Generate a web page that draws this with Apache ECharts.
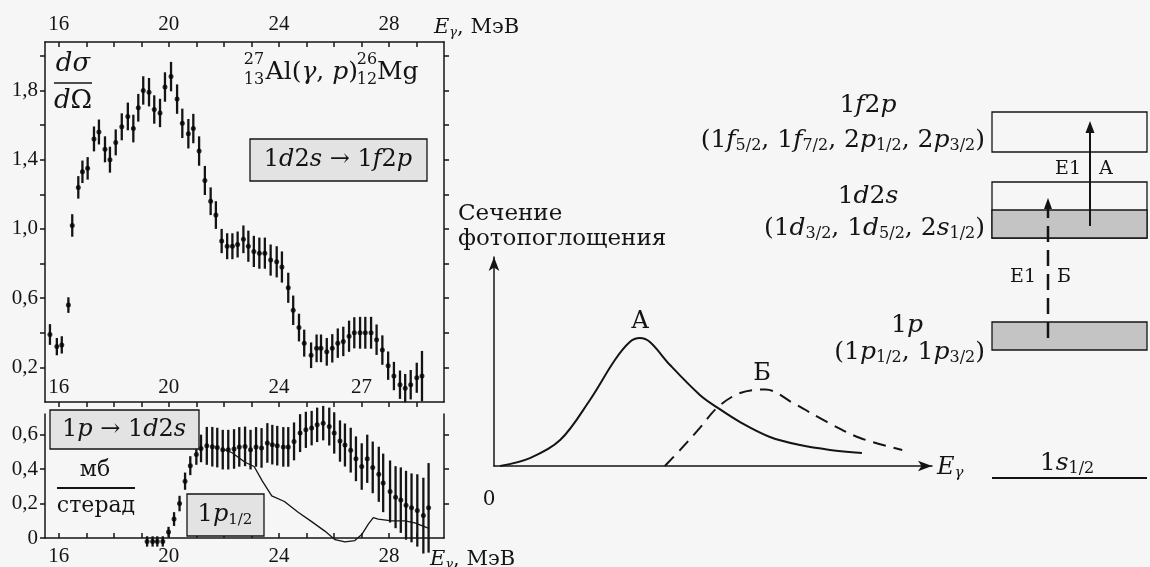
<!DOCTYPE html>
<html>
<head>
<meta charset="utf-8">
<script src="https://cdn.jsdelivr.net/npm/echarts@6/dist/echarts.min.js"></script>
<style>
  html, body { margin: 0; padding: 0; background: #f6f6f6; }
  #chart { width: 1150px; height: 567px; }
</style>
</head>
<body>
<div id="chart"></div>
<script>
const INK = '#141414';
const SERIF = "'Liberation Serif', 'Times New Roman', serif";
const MATH = "'DejaVu Serif', 'Liberation Serif', serif";

// 27Al(γ,p)26Mg, 1d2s → 1f2p part: photon energy (MeV), dσ/dΩ (mb/sr), error
const upperEnergy = [15.68, 15.93, 16.11, 16.35, 16.49, 16.71, 16.86, 17.05, 17.28, 17.46,
  17.68, 17.86, 18.07, 18.29, 18.51, 18.71, 18.89, 19.07, 19.28, 19.47,
  19.68, 19.86, 20.08, 20.30, 20.49, 20.71, 20.89, 21.10, 21.31, 21.52,
  21.71, 21.92, 22.12, 22.31, 22.50, 22.71, 22.89, 23.09, 23.29, 23.49,
  23.70, 23.92, 24.11, 24.34, 24.52, 24.73, 24.92, 25.17, 25.37, 25.53,
  25.74, 25.94, 26.14, 26.34, 26.55, 26.74, 26.95, 27.14, 27.35, 27.55,
  27.76, 27.97, 28.18, 28.40, 28.59, 28.79, 29.01, 29.20];
const upperSigma = [0.39, 0.32, 0.33, 0.56, 1.02, 1.24, 1.33, 1.35, 1.52, 1.56,
  1.46, 1.40, 1.50, 1.59, 1.65, 1.58, 1.70, 1.80, 1.79, 1.69,
  1.67, 1.82, 1.88, 1.75, 1.61, 1.55, 1.58, 1.45, 1.28, 1.16,
  1.08, 0.93, 0.90, 0.90, 0.91, 0.94, 0.90, 0.87, 0.86, 0.86,
  0.82, 0.81, 0.78, 0.66, 0.53, 0.43, 0.34, 0.27, 0.31, 0.31,
  0.29, 0.31, 0.34, 0.35, 0.38, 0.40, 0.40, 0.40, 0.40, 0.36,
  0.30, 0.21, 0.15, 0.10, 0.08, 0.10, 0.14, 0.15];
const upperError = [0.06, 0.05, 0.05, 0.045, 0.065, 0.065, 0.065, 0.065, 0.072, 0.072,
  0.075, 0.075, 0.075, 0.078, 0.08, 0.08, 0.08, 0.082, 0.082, 0.082,
  0.082, 0.085, 0.085, 0.085, 0.085, 0.085, 0.085, 0.085, 0.084, 0.08,
  0.08, 0.07, 0.075, 0.075, 0.075, 0.08, 0.09, 0.09, 0.09, 0.09,
  0.09, 0.09, 0.09, 0.087, 0.085, 0.08, 0.078, 0.074, 0.08, 0.08,
  0.08, 0.082, 0.085, 0.085, 0.09, 0.09, 0.092, 0.092, 0.092, 0.088,
  0.085, 0.082, 0.082, 0.082, 0.082, 0.085, 0.087, 0.145];

// 1p → 1d2s part
const lowerEnergy = [19.21, 19.41, 19.58, 19.78, 19.99, 20.19, 20.39, 20.59, 20.78, 21.00,
  21.17, 21.38, 21.58, 21.76, 21.96, 22.16, 22.37, 22.56, 22.77, 22.97,
  23.17, 23.37, 23.58, 23.76, 23.94, 24.16, 24.34, 24.55, 24.77, 24.98,
  25.19, 25.39, 25.61, 25.83, 26.01, 26.22, 26.40, 26.61, 26.80, 27.01,
  27.21, 27.41, 27.63, 27.79, 28.04, 28.24, 28.43, 28.62, 28.82, 29.03,
  29.25, 29.44];
const lowerSigma = [-0.02, -0.02, -0.02, -0.02, 0.035, 0.11, 0.20, 0.33, 0.42, 0.485,
  0.52, 0.535, 0.53, 0.525, 0.513, 0.513, 0.517, 0.529, 0.532, 0.513,
  0.529, 0.523, 0.552, 0.542, 0.536, 0.529, 0.529, 0.561, 0.609, 0.628,
  0.638, 0.657, 0.667, 0.647, 0.61, 0.563, 0.54, 0.51, 0.46, 0.415,
  0.46, 0.41, 0.37, 0.32, 0.27, 0.237, 0.22, 0.19, 0.175, 0.16,
  0.13, 0.175];
const lowerError = [0.03, 0.03, 0.03, 0.03, 0.03, 0.04, 0.045, 0.05, 0.055, 0.06,
  0.08, 0.11, 0.115, 0.115, 0.115, 0.115, 0.115, 0.115, 0.115, 0.115,
  0.115, 0.115, 0.115, 0.115, 0.115, 0.115, 0.115, 0.11, 0.11, 0.105,
  0.1, 0.1, 0.1, 0.11, 0.12, 0.12, 0.125, 0.13, 0.13, 0.135,
  0.14, 0.15, 0.16, 0.17, 0.18, 0.18, 0.19, 0.2, 0.2, 0.21,
  0.22, 0.26];

// calculated 1p1/2 contribution
const p12Energy = [21.9, 22.3, 22.77, 23.1, 23.4, 23.74, 24.2, 24.7, 25.19, 25.67,
  26.04, 26.4, 26.76, 27.01, 27.25, 27.43, 27.61, 28.1, 28.58, 28.94, 29.31, 29.45];
const p12Sigma = [0.52, 0.495, 0.44, 0.415, 0.33, 0.245, 0.212, 0.15, 0.095, 0.04,
  -0.01, -0.022, -0.015, 0.02, 0.08, 0.118, 0.11, 0.1, 0.1, 0.088, 0.065, 0.055];

// axis ticks and labels
const energyTicks = [16, 17, 18, 19, 20, 21, 22, 23, 24, 25, 26, 27, 28, 29];
const energyLabels = [16, 20, 24, 28];
const innerEnergyLabels = [16, 20, 24, 27];
const upperYTicks = [0.2, 0.4, 0.6, 0.8, 1.0, 1.2, 1.4, 1.6, 1.8, 2.0];
const upperYLabels = [0.2, 0.6, 1.0, 1.4, 1.8];
const lowerYTicks = [0, 0.2, 0.4, 0.6];
const lowerYLabels = [0, 0.2, 0.4, 0.6];

// schematic photoabsorption cross-section curves (arbitrary units)
const curveAx = [0.14, 0.82, 1.51, 2.19, 2.76, 3.1, 3.33, 3.56, 4.02, 4.7, 5.11, 5.62, 6.3, 6.99, 7.67, 8.4];
const curveAy = [0, 0.38, 1.24, 3.16, 5.07, 5.93, 6.12, 5.93, 4.83, 3.4, 2.78, 2.1, 1.39, 1.0, 0.77, 0.62];
const curveBx = [3.9, 4.25, 4.7, 5.11, 5.62, 6.2, 6.83, 7.6, 8.36, 9.32];
const curveBy = [0, 0.77, 1.82, 2.82, 3.49, 3.66, 3.01, 2.11, 1.34, 0.77];

const zip = (a, b, c) => a.map((v, i) => c ? [v, b[i], c[i]] : [v, b[i]]);
const comma = v => (v === 0 ? '0' : v.toFixed(1).replace('.', ','));

function errorBar(params, api) {
  const x = api.value(0), y = api.value(1), e = api.value(2);
  const hi = api.coord([x, y + e]);
  const lo = api.coord([x, y - e]);
  return {
    type: 'line',
    shape: { x1: hi[0], y1: hi[1], x2: lo[0], y2: lo[1] },
    style: { stroke: INK, lineWidth: 2.3 }
  };
}

const axisLineStyle = { color: INK, width: 1.5 };
const labelFont = { color: INK, fontFamily: SERIF, fontSize: 21 };

function energyAxis(gridIndex, position, tickInside, labelInside, labels, margin) {
  return {
    type: 'value', gridIndex, position, min: 15.5, max: 30,
    axisLine: { show: true, onZero: false, lineStyle: axisLineStyle },
    axisTick: { show: true, inside: tickInside, length: 5, customValues: energyTicks, lineStyle: axisLineStyle },
    axisLabel: Object.assign({ show: true, inside: labelInside, margin, customValues: labels, formatter: v => String(v) }, labelFont),
    splitLine: { show: false }
  };
}
function sigmaAxis(gridIndex, position, max, ticks, labels) {
  return {
    type: 'value', gridIndex, position, min: 0, max,
    axisLine: { show: true, onZero: false, lineStyle: axisLineStyle },
    axisTick: { show: true, inside: false, length: 5, customValues: ticks, lineStyle: axisLineStyle },
    axisLabel: labels ? Object.assign({ show: true, margin: 7, customValues: labels, formatter: comma }, labelFont) : { show: false },
    splitLine: { show: false }
  };
}
function arrowAxis() {
  return {
    type: 'value', gridIndex: 2, min: 0, max: 10,
    axisLine: { show: true, onZero: false, symbol: ['none', 'arrow'], symbolSize: [8, 14], lineStyle: axisLineStyle },
    axisTick: { show: false }, axisLabel: { show: false }, splitLine: { show: false }
  };
}

function rich(size) {
  const sub = Math.round(size * 0.64);
  const shift = Math.round(size * 0.42);
  return {
    i: { fontFamily: MATH, fontStyle: 'italic', fontSize: size, fill: INK },
    r: { fontFamily: MATH, fontSize: size, fill: INK },
    s: { fontFamily: MATH, fontSize: sub, fill: INK, padding: [shift, 0, 0, 0] },
    si: { fontFamily: MATH, fontStyle: 'italic', fontSize: sub, fill: INK, padding: [shift, 0, 0, 0] }
  };
}
function label(x, y, text, size, align, family) {
  return {
    type: 'text', x, y, z: 30, silent: true,
    style: {
      text, fontFamily: family || MATH, fontSize: size, fill: INK,
      align: align || 'center', verticalAlign: 'middle', rich: rich(size)
    }
  };
}
function box(x, y, w, h, fill) {
  return { type: 'rect', z: 25, silent: true, shape: { x, y, width: w, height: h },
    style: { fill: fill || 'transparent', stroke: INK, lineWidth: 1.3 } };
}
function seg(x1, y1, x2, y2, w, dash) {
  return { type: 'line', z: 26, silent: true, shape: { x1, y1, x2, y2 },
    style: { stroke: INK, lineWidth: w, lineDash: dash || null } };
}
function head(points) {
  return { type: 'polygon', z: 27, silent: true, shape: { points }, style: { fill: INK } };
}

const chart = echarts.init(document.getElementById('chart'), null, { renderer: 'canvas' });
chart.setOption({
  animation: false,
  backgroundColor: '#f6f6f6',
  grid: [
    { left: 45, top: 42, width: 399, height: 360 },
    { left: 45, top: 414, width: 399, height: 125 },
    { left: 494, top: 257, width: 438, height: 209 }
  ],
  xAxis: [
    energyAxis(0, 'bottom', false, true, innerEnergyLabels, 4),
    energyAxis(0, 'top', true, false, energyLabels, 7),
    energyAxis(1, 'bottom', true, false, energyLabels, 8),
    arrowAxis()
  ],
  yAxis: [
    sigmaAxis(0, 'left', 2.08, upperYTicks, upperYLabels),
    sigmaAxis(0, 'right', 2.08, upperYTicks, null),
    sigmaAxis(1, 'left', 0.72, lowerYTicks, lowerYLabels),
    sigmaAxis(1, 'right', 0.72, [0.2, 0.4, 0.6], null),
    arrowAxis()
  ],
  series: [
    { type: 'custom', xAxisIndex: 0, yAxisIndex: 0, renderItem: errorBar, clip: false, silent: true,
      encode: { x: 0, y: 1 }, data: zip(upperEnergy, upperSigma, upperError) },
    { type: 'scatter', xAxisIndex: 0, yAxisIndex: 0, symbolSize: 5, clip: false, silent: true,
      itemStyle: { color: '#000' }, data: zip(upperEnergy, upperSigma) },
    { type: 'custom', xAxisIndex: 2, yAxisIndex: 2, renderItem: errorBar, clip: false, silent: true,
      encode: { x: 0, y: 1 }, data: zip(lowerEnergy, lowerSigma, lowerError) },
    { type: 'scatter', xAxisIndex: 2, yAxisIndex: 2, symbolSize: 5, clip: false, silent: true,
      itemStyle: { color: '#000' }, data: zip(lowerEnergy, lowerSigma) },
    { type: 'line', xAxisIndex: 2, yAxisIndex: 2, showSymbol: false, clip: false, silent: true,
      lineStyle: { color: INK, width: 1.3 }, data: zip(p12Energy, p12Sigma) },
    { type: 'line', xAxisIndex: 3, yAxisIndex: 4, showSymbol: false, smooth: 0.35, silent: true,
      lineStyle: { color: INK, width: 2 }, data: zip(curveAx, curveAy) },
    { type: 'line', xAxisIndex: 3, yAxisIndex: 4, showSymbol: false, smooth: 0.35, silent: true,
      lineStyle: { color: INK, width: 2, type: [13, 8] }, data: zip(curveBx, curveBy) }
  ],
  graphic: [
    // left panels: titles, units and boxed labels
    label(434, 28, '{i|E}{si|γ}, МэВ', 21, 'left'),
    label(73, 64, '{i|dσ}', 26),
    seg(54, 83, 92, 83, 1.6),
    label(73, 101, '{i|d}Ω', 26),
    label(254, 60, '27', 16), label(254, 80, '13', 16),
    label(358, 72, 'Al({i|γ}, {i|p})', 25, 'right'),
    label(367, 60, '26', 16), label(367, 80, '12', 16),
    label(377, 72, 'Mg', 25, 'left'),
    box(250, 139, 177, 42, '#e3e3e3'),
    label(338, 160, '1{i|d}2{i|s} → 1{i|f}2{i|p}', 24),
    box(50, 410, 149, 39, '#e3e3e3'),
    label(124, 430, '1{i|p} → 1{i|d}2{i|s}', 24),
    label(95, 470, 'мб', 22),
    seg(57, 488, 135, 488, 2),
    label(96, 506, 'стерад', 22),
    box(187, 494, 77, 42, '#e3e3e3'),
    label(225, 515, '1{i|p}{s|1/2}', 24),
    label(430, 560, '{i|E}{si|γ}, МэВ', 21, 'left'),
    // photoabsorption sketch
    label(458, 214, 'Сечение', 23, 'left'),
    label(458, 239, 'фотопоглощения', 23, 'left'),
    label(640, 322, 'А', 24),
    label(762, 374, 'Б', 24),
    label(489, 500, '0', 20),
    label(937, 468, '{i|E}{si|γ}', 24, 'left'),
    // shell levels
    box(992, 112, 155, 40),
    box(992, 182, 155, 56),
    box(992, 210, 155, 28, '#c4c4c4'),
    box(992, 322, 155, 28, '#c4c4c4'),
    seg(992, 478, 1147, 478, 2),
    seg(1090, 226, 1090, 130, 2),
    head([[1090, 121], [1085.5, 133], [1094.5, 133]]),
    seg(1048, 338, 1048, 208, 2.5, [16, 8]),
    head([[1048, 198], [1044, 209], [1052, 209]]),
    label(868, 105, '1{i|f}2{i|p}', 25),
    label(985, 140, '(1{i|f}{s|5/2}, 1{i|f}{s|7/2}, 2{i|p}{s|1/2}, 2{i|p}{s|3/2})', 25, 'right'),
    label(868, 196, '1{i|d}2{i|s}', 25),
    label(985, 228, '(1{i|d}{s|3/2}, 1{i|d}{s|5/2}, 2{i|s}{s|1/2})', 25, 'right'),
    label(907, 325, '1{i|p}', 25),
    label(985, 352, '(1{i|p}{s|1/2}, 1{i|p}{s|3/2})', 25, 'right'),
    label(1067, 463, '1{i|s}{s|1/2}', 25),
    label(1068, 169, 'E1', 19), label(1106, 169, 'А', 19),
    label(1023, 277, 'E1', 19), label(1064, 277, 'Б', 19)
  ]
});
</script>
</body>
</html>
